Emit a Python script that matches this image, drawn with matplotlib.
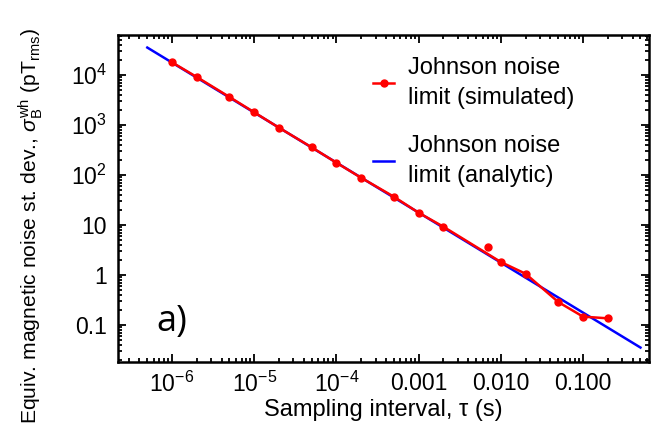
import matplotlib
matplotlib.use("Agg")
import matplotlib.pyplot as plt
from matplotlib.ticker import FixedLocator, FixedFormatter, LogLocator, NullFormatter

plt.rcParams['font.family'] = ['Liberation Sans', 'DejaVu Sans']
plt.rcParams['mathtext.fontset'] = 'custom'
plt.rcParams['mathtext.rm'] = 'Liberation Sans'
plt.rcParams['mathtext.it'] = 'Liberation Sans:italic'
plt.rcParams['mathtext.sf'] = 'Liberation Sans'

# Simulated Johnson noise (connected points)
tau_sim = [1e-6, 2e-6, 5e-6, 1e-5, 2e-5, 5e-5, 1e-4, 2e-4, 5e-4, 1e-3,
           2e-3, 1e-2, 2e-2, 5e-2, 1e-1, 2e-1]
sigma_sim = [17900, 9120, 3630, 1795, 883, 358, 176, 88, 36.8, 17.6,
             9.25, 1.82, 1.06, 0.288, 0.147, 0.136]
# isolated simulated point (not joined)
tau_out = [7e-3]
sigma_out = [3.58]

# Analytic Johnson noise limit (straight line on log-log)
tau_ana = [5e-7, 0.5]
sigma_ana = [35400, 0.0354]

xticks = [1e-6, 1e-5, 1e-4, 1e-3, 1e-2, 1e-1]
xticklabels = [r'$10^{-6}$', r'$10^{-5}$', r'$10^{-4}$', '0.001', '0.010', '0.100']
yticks = [0.1, 1, 10, 100, 1000, 10000]
yticklabels = ['0.1', '1', '10', r'$10^{2}$', r'$10^{3}$', r'$10^{4}$']

fig = plt.figure(figsize=(6.68, 4.41), dpi=100)
ax = fig.add_axes([118/668, 1-362/441, (649-118)/668, (362-34.5)/441])

ax.plot(tau_ana, sigma_ana, color='#0000ff', lw=1.8, label='Johnson noise\nlimit (analytic)', zorder=2)
ax.plot(tau_sim, sigma_sim, color='#ff0000', lw=1.8, marker='o', ms=5,
        label='Johnson noise\nlimit (simulated)', zorder=3)
ax.plot(tau_out, sigma_out, color='#ff0000', lw=0, marker='o', ms=5, zorder=3)

ax.set_xscale('log')
ax.set_yscale('log')
ax.set_xlim(2.2e-7, 0.635)
ax.set_ylim(0.0182, 64600)

ax.xaxis.set_major_locator(FixedLocator(xticks))
ax.xaxis.set_major_formatter(FixedFormatter(xticklabels))
ax.yaxis.set_major_locator(FixedLocator(yticks))
ax.yaxis.set_major_formatter(FixedFormatter(yticklabels))
ax.xaxis.set_minor_locator(LogLocator(base=10, subs=range(2, 10), numticks=20))
ax.yaxis.set_minor_locator(LogLocator(base=10, subs=range(2, 10), numticks=20))
ax.xaxis.set_minor_formatter(NullFormatter())
ax.yaxis.set_minor_formatter(NullFormatter())

ax.tick_params(which='both', direction='in', top=True, right=True, labelsize=16.5, width=1.3)
ax.tick_params(which='major', length=6)
ax.tick_params(axis='x', which='major', pad=7)
ax.tick_params(axis='y', which='major', pad=8)
ax.tick_params(which='minor', length=3)
for s in ax.spines.values():
    s.set_linewidth(1.8)

ax.set_xlabel(r'Sampling interval, τ (s)', fontsize=17)
ax.xaxis.set_label_coords(0.5, -0.112)
ax.set_ylabel(r'Equiv. magnetic noise st. dev., $\sigma_\mathrm{B}^\mathrm{wh}$ (pT$_\mathrm{rms}$)',
              fontsize=15.2)
ax.yaxis.set_label_coords(-0.137, 0.415)

handles, labels = ax.get_legend_handles_labels()
leg = ax.legend(handles[::-1], labels[::-1], frameon=False, fontsize=17,
                loc='upper left', bbox_to_anchor=(0.44, 0.995), handlelength=0.9,
                labelspacing=1.1, handletextpad=0.6)
for t in leg.get_texts():
    t.set_linespacing(1.45)

ax.text(0.102, 0.122, 'a)', transform=ax.transAxes, fontsize=26,
        family=['Open Sans', 'DejaVu Sans'], ha='center', va='center')

fig.savefig('out.png', dpi=100)
